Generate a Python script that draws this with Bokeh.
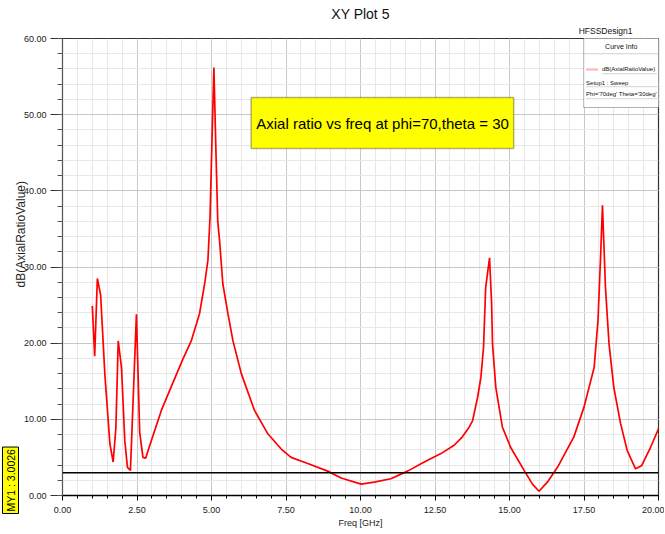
from bokeh.plotting import figure
from bokeh.models import (Label, Span, SingleIntervalTicker, PrintfTickFormatter,
                          BoxAnnotation, PolyAnnotation, Range1d, Title)
from bokeh.embed import file_html
from bokeh.resources import INLINE

# ---- data ----
freq_ghz = [1.00, 1.08, 1.17, 1.28, 1.42, 1.59, 1.70, 1.79, 1.87, 1.98, 2.09, 2.18, 2.28,
            2.48, 2.59, 2.70, 2.79, 2.98, 3.32, 3.65, 4.04, 4.32, 4.60, 4.77, 4.88, 4.95,
            5.08, 5.15, 5.21, 5.27, 5.38, 5.55, 5.72, 6.00, 6.44, 6.89, 7.34, 7.67, 8.23,
            8.90, 9.35, 10.02, 10.46, 11.02, 11.58, 12.14, 12.70, 13.14, 13.42, 13.65,
            13.76, 13.93, 14.04, 14.13, 14.20, 14.33, 14.40, 14.43, 14.54, 14.76, 15.04,
            15.49, 15.77, 15.99, 16.27, 16.61, 17.16, 17.50, 17.84, 17.97, 18.06, 18.12,
            18.22, 18.34, 18.50, 18.73, 18.95, 19.23, 19.43, 19.73, 20.00]
axial_ratio_db = [24.9, 18.3, 28.5, 26.3, 16.0, 6.8, 4.4, 8.8, 20.3, 16.8, 7.2, 3.7, 3.3,
                  23.8, 8.3, 5.0, 4.9, 7.2, 11.2, 14.3, 17.9, 20.3, 23.9, 27.8, 30.9, 36.5,
                  56.2, 45.0, 36.0, 33.5, 27.8, 23.9, 20.3, 16.0, 11.2, 8.1, 6.1, 5.0, 4.2,
                  3.2, 2.3, 1.5, 1.75, 2.2, 3.2, 4.4, 5.5, 6.6, 7.7, 9.0,
                  9.8, 12.9, 15.5, 19.5, 27.3, 31.2, 25.2, 19.9, 14.2, 9.0, 6.3,
                  3.3, 1.5, 0.56, 1.75, 3.7, 7.7, 11.6, 16.8, 23.0, 31.7, 38.1,
                  27.3, 19.9, 14.2, 9.4, 5.9, 3.5, 3.9, 6.3, 8.75]
marker_value = 3.0026
x_range = (0.0, 20.0)
y_range = (0.0, 60.0)

title_text = "XY Plot 5"
design_text = "HFSSDesign1"
note_text = "Axial ratio vs freq at phi=70,theta = 30"
x_label = "Freq [GHz]"
y_label = "dB(AxialRatioValue)"
legend_header = "Curve Info"
legend_lines = ["dB(AxialRatioValue)", "Setup1 : Sweep", "Phi='70deg' Theta='30deg'"]

SANS = "Liberation Sans"

p = figure(width=664, height=532, output_backend="svg", toolbar_location=None,
           x_range=Range1d(*x_range), y_range=Range1d(*y_range),
           min_border_left=61, min_border_right=6, min_border_top=38, min_border_bottom=37)
p.background_fill_color = "white"
p.border_fill_color = "white"
p.outline_line_color = "#333333"
p.outline_line_width = 1.2

# titles above the frame (closest first)
p.add_layout(Title(text=design_text, align="right", offset=26, standoff=5,
                   text_font=SANS, text_font_size="8.5px", text_font_style="normal",
                   text_color="#111111"), "above")
p.title.text = title_text
p.title.align = "center"
p.title.text_font = SANS
p.title.text_font_size = "14px"
p.title.text_font_style = "normal"
p.title.text_color = "#111111"
p.title.standoff = 0

# y-axis label: a title overlapping the tick-label column, starting above the frame bottom
try:
    ylab = Title(text=y_label, align="left", offset=208, standoff=-14, text_font=SANS,
                 text_font_size="12px", text_font_style="normal", text_color="#222222")
    p.add_layout(ylab, "left")
except Exception:
    p.yaxis.axis_label = y_label
    p.yaxis.axis_label_text_font = SANS
    p.yaxis.axis_label_text_font_size = "12px"
    p.yaxis.axis_label_text_font_style = "normal"
    p.yaxis.axis_label_standoff = -13

# marker label on the far left
p.add_layout(Title(text="MY1 : %.4f" % marker_value, align="left", offset=-18, standoff=0,
                   text_font=SANS, text_font_size="10.5px", text_font_style="normal",
                   text_color="black", background_fill_color="yellow",
                   border_line_color="black", border_line_width=1, padding=2), "left")

# axes
p.xaxis.ticker = SingleIntervalTicker(interval=2.5, num_minor_ticks=5)
p.yaxis.ticker = SingleIntervalTicker(interval=10, num_minor_ticks=5)
p.xaxis.formatter = PrintfTickFormatter(format="%.2f")
p.yaxis.formatter = PrintfTickFormatter(format="%.2f")
for ax in (p.xaxis, p.yaxis):
    ax.major_label_text_font = SANS
    ax.major_label_text_font_size = "9px"
    ax.major_label_text_color = "#222222"
    ax.major_tick_in = 0
    ax.minor_tick_in = 0
p.xaxis.axis_label = x_label
p.xaxis.axis_label_text_font = SANS
p.xaxis.axis_label_text_font_style = "normal"
p.xaxis.axis_label_text_color = "#222222"
p.xaxis.axis_label_text_font_size = "9px"
p.xaxis.axis_label_standoff = 2
p.yaxis.axis_line_color = "#555555"
p.yaxis.major_tick_line_color = "#333333"
p.yaxis.minor_tick_line_color = "#555555"
p.yaxis.major_tick_out = 12
p.yaxis.minor_tick_out = 5
p.yaxis.major_label_standoff = 4
p.xaxis.axis_line_color = "black"
p.xaxis.axis_line_width = 1.5
p.xaxis.major_tick_out = 5
p.xaxis.minor_tick_out = 3
p.xaxis.major_label_standoff = 6

# grid
p.xgrid.grid_line_color = "#c8c8c8"
p.ygrid.grid_line_color = "#c8c8c8"
p.xgrid.minor_grid_line_color = "#e8e8e8"
p.ygrid.minor_grid_line_color = "#e8e8e8"

# curve
p.line(freq_ghz, axial_ratio_db, line_color="#ff0000", line_width=1.7)

# marker line
p.add_layout(Span(location=marker_value, dimension="width", line_color="black", line_width=1.5))

# annotation box
p.add_layout(BoxAnnotation(left=6.33, right=15.14, top=52.25, bottom=45.56,
                           fill_color="yellow", fill_alpha=1.0, line_color="black",
                           line_width=1.5, level="overlay"))
p.add_layout(Label(x=10.74, y=48.9, text=note_text, text_font=SANS, text_font_size="15px",
                   text_align="center", text_baseline="middle", text_color="black",
                   level="overlay"))

# curve info box
p.add_layout(BoxAnnotation(left=17.49, right=20.4, top=60.5, bottom=50.94,
                           fill_color="white", fill_alpha=1.0, line_color="black",
                           line_width=1, level="overlay"))
p.add_layout(PolyAnnotation(xs=[17.49, 20.4], ys=[58.0, 58.0], line_color="#666666",
                            line_width=1, fill_alpha=0, level="overlay"))
p.add_layout(Label(x=18.75, y=59.0, text=legend_header, text_font=SANS, text_font_size="7px",
                   text_align="center", text_baseline="middle", text_color="#111111",
                   level="overlay"))
p.add_layout(PolyAnnotation(xs=[17.57, 17.97], ys=[55.93, 55.93], line_color="#ff0000",
                            line_width=2, fill_alpha=0, level="overlay"))
leg_pos = [(18.1, 55.93), (17.57, 54.22), (17.57, 52.65)]
for (lx, ly), txt in zip(leg_pos, legend_lines):
    p.add_layout(Label(x=lx, y=ly, text=txt, text_font=SANS, text_font_size="6px",
                       text_align="left", text_baseline="middle", text_color="#111111",
                       level="overlay"))
    p.add_layout(PolyAnnotation(xs=[lx, 19.95], ys=[ly - 0.55, ly - 0.55], line_color="#333333",
                                line_width=0.7, fill_alpha=0, level="overlay"))

open("out.html", "w").write(file_html(p, INLINE))
